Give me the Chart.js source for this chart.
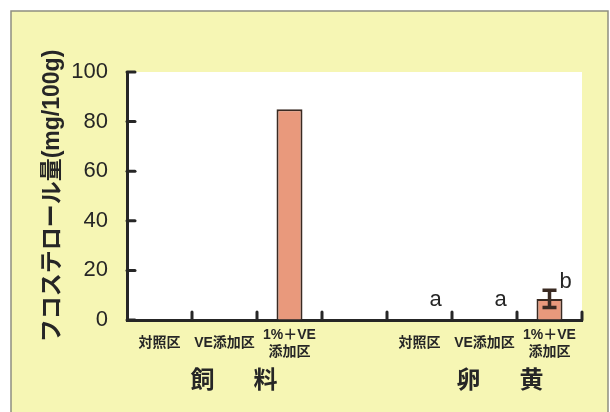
<!DOCTYPE html>
<html>
<head>
<meta charset="utf-8">
<script src="https://cdn.jsdelivr.net/npm/chart.js@4.4.0/dist/chart.umd.min.js"></script>
<style>
  body { margin: 0; background: #fff; }
</style>
</head>
<body>
<canvas id="myChart" width="610" height="412"></canvas>
<script>
const categories = ["対照区", "VE添加区", ["1%＋VE", "添加区"], "", "対照区", "VE添加区", ["1%＋VE", "添加区"]];
const values = [0, 0, 85, null, 0, 0, 8.5];
const errors = [null, null, null, null, null, null, 3.5];
const sigLetters = ["", "", "", "", "a", "a", "b"];
const groups = [
  { chars: ["飼", "料"], from: 0, to: 2 },
  { chars: ["卵", "黄"], from: 4, to: 6 },
];
const yTicks = [0, 20, 40, 60, 80, 100];

const FONT = "'Liberation Sans', 'Noto Sans CJK JP', sans-serif";
const INK = "#262626";

const panelPlugin = {
  id: "panel",
  beforeDraw(chart) {
    const ctx = chart.ctx;
    const a = chart.chartArea;
    ctx.save();
    ctx.fillStyle = "#ffffff";
    ctx.fillRect(0, 0, chart.width, chart.height);
    ctx.fillStyle = "#f6f6b4";
    ctx.fillRect(11, 11, 597, chart.height);
    ctx.strokeStyle = "#8f8f80";
    ctx.lineWidth = 1.5;
    ctx.beginPath();
    ctx.moveTo(11, chart.height);
    ctx.lineTo(11, 11);
    ctx.lineTo(608, 11);
    ctx.lineTo(608, chart.height);
    ctx.stroke();
    ctx.fillStyle = "#ffffff";
    ctx.fillRect(a.left, a.top, a.right - a.left, a.bottom - a.top);
    ctx.restore();
  },
  afterDatasetsDraw(chart) {
    const ctx = chart.ctx;
    const x = chart.scales.x;
    const y = chart.scales.y;
    const a = chart.chartArea;
    ctx.save();
    ctx.strokeStyle = INK;
    ctx.lineWidth = 3;
    ctx.lineCap = "round";
    // inward ticks on y axis
    yTicks.forEach(v => {
      const py = y.getPixelForValue(v);
      ctx.beginPath();
      ctx.moveTo(a.left, py);
      ctx.lineTo(a.left + 8, py);
      ctx.stroke();
    });
    // inward ticks on x axis, at category boundaries
    for (let i = 0; i < categories.length; i++) {
      const px = x.getPixelForValue(i + 0.5);
      ctx.beginPath();
      ctx.moveTo(px, a.bottom);
      ctx.lineTo(px, a.bottom - 8);
      ctx.stroke();
    }
    // error bars
    ctx.strokeStyle = "#3a2a22";
    ctx.lineWidth = 3.5;
    ctx.lineCap = "butt";
    values.forEach((v, i) => {
      if (errors[i] == null || v == null) return;
      const px = x.getPixelForValue(i);
      const top = y.getPixelForValue(v + errors[i]);
      const bot = y.getPixelForValue(v - errors[i]);
      ctx.beginPath();
      ctx.moveTo(px, top);
      ctx.lineTo(px, bot);
      ctx.moveTo(px - 7, top);
      ctx.lineTo(px + 7, top);
      ctx.moveTo(px - 7, bot);
      ctx.lineTo(px + 7, bot);
      ctx.stroke();
    });
    // significance letters
    ctx.fillStyle = INK;
    ctx.font = "22px " + FONT;
    ctx.textAlign = "center";
    ctx.textBaseline = "alphabetic";
    sigLetters.forEach((s, i) => {
      if (!s) return;
      const v = (values[i] || 0) + (errors[i] || 0);
      const base = Math.min(y.getPixelForValue(v) - 2, a.bottom - 14);
      ctx.fillText(s, x.getPixelForValue(i) + 16, base);
    });
    // group labels
    ctx.font = "bold 24px " + FONT;
    ctx.textBaseline = "middle";
    groups.forEach((g, k) => {
      const c = (x.getPixelForValue(g.from) + x.getPixelForValue(g.to)) / 2 + 9 + k * 6;
      ctx.fillText(g.chars[0], c - 31, 381);
      ctx.fillText(g.chars[1], c + 32, 381);
    });
    ctx.restore();
  }
};

new Chart(document.getElementById("myChart"), {
  type: "bar",
  data: {
    labels: categories,
    datasets: [{
      data: values,
      backgroundColor: "#e9997c",
      borderColor: "#3a2a22",
      borderWidth: 2,
      categoryPercentage: 1,
      barPercentage: 0.4,
    }],
  },
  options: {
    responsive: false,
    animation: false,
    layout: { padding: { left: 0, right: 28, top: 72, bottom: 0 } },
    plugins: { legend: { display: false }, tooltip: { enabled: false } },
    scales: {
      x: {
        afterFit(s) { s.height = 92; },
        grid: { display: false, drawTicks: false },
        border: { color: INK, width: 3 },
        ticks: {
          color: INK,
          font: { family: FONT, size: 14, weight: "bold" },
          crossAlign: "center",
          padding: 15,
          maxRotation: 0,
          autoSkip: false,
        },
      },
      y: {
        min: 0,
        max: 100,
        afterFit(s) { s.width = 127; },
        grid: { drawOnChartArea: false, drawTicks: false },
        border: { color: INK, width: 3 },
        ticks: {
          stepSize: 20,
          color: INK,
          padding: 19,
          font: { family: FONT, size: 22 },
        },
        title: {
          display: true,
          text: "フコステロール量(mg/100g)",
          color: INK,
          font: { family: FONT, size: 23, weight: "bold" },
          padding: { top: 39, bottom: 0 },
        },
      },
    },
  },
  plugins: [panelPlugin],
});
</script>
</body>
</html>
